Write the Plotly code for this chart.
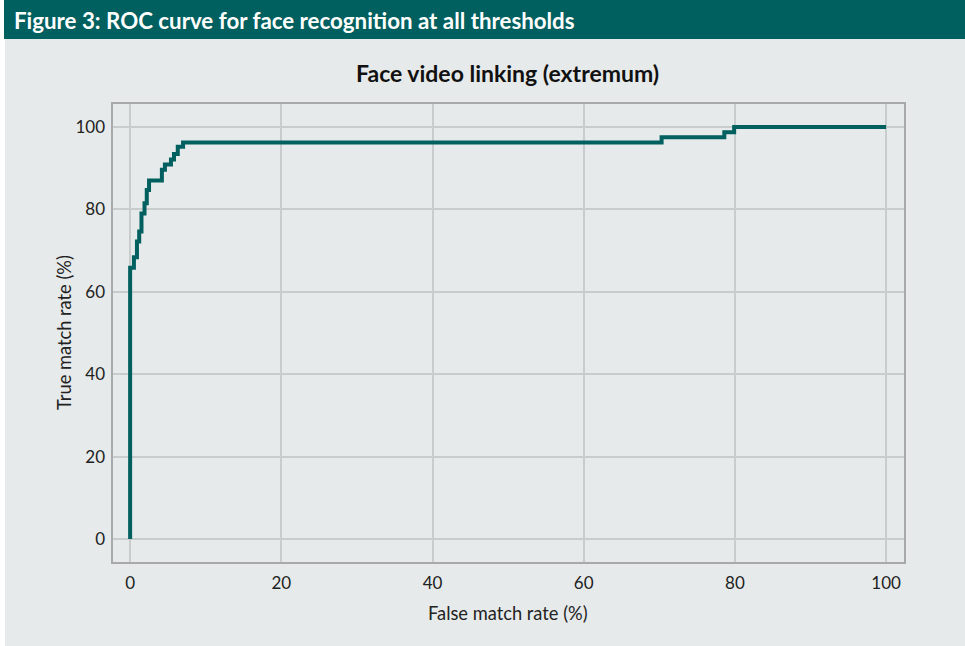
import plotly.graph_objects as go

# ROC operating points (false match rate %, true match rate %)
fmr = [0, 0, 0.5, 0.9, 1.2, 1.5, 1.9, 2.2, 2.5, 4.2, 4.6, 5.4, 5.8, 6.3, 7.0, 70.3, 78.6, 79.9, 100]
tmr = [0, 65.8, 68.4, 72.2, 74.6, 79.0, 81.5, 84.7, 87.0, 89.6, 90.9, 92.1, 93.4, 95.2, 96.2, 97.5, 98.7, 100, 100]

x_ticks = [0, 20, 40, 60, 80, 100]
y_ticks = [0, 20, 40, 60, 80, 100]

header_text = "Figure 3: ROC curve for face recognition at all thresholds"
chart_title = "Face video linking (extremum)"
x_title = "False match rate (%)"
y_title = "True match rate (%)"

TEAL = "#005F5F"
BG = "#E6EAEA"
GRID = "#C9CCCC"
BORDER = "#A8AAAA"
FONT = "Lato, Carlito, Calibri, sans-serif"

W, H = 965, 646
L, R, T, B = 112, 60, 103, 83
pw, ph = W - L - R, H - T - B


def px(x):
    return (x - L) / pw


def py(y):
    return (H - B - y) / ph


fig = go.Figure()
fig.add_trace(go.Scatter(
    x=fmr, y=tmr, mode="lines", line=dict(color=TEAL, width=4, shape="hv"),
    hoverinfo="skip", showlegend=False,
))

shapes = [
    # page background below the header band
    dict(type="rect", xref="paper", yref="paper", x0=px(5), x1=px(W), y0=py(H), y1=py(39),
         fillcolor=BG, line=dict(width=0), layer="below"),
    # header band
    dict(type="rect", xref="paper", yref="paper", x0=px(4), x1=px(W), y0=py(39), y1=py(0),
         fillcolor=TEAL, line=dict(width=0), layer="below"),
    # plot frame
    dict(type="rect", xref="paper", yref="paper", x0=0, x1=1, y0=0, y1=1,
         line=dict(color=BORDER, width=2), layer="above"),
]

annotations = [
    dict(text=f"<b>{header_text}</b>", xref="paper", yref="paper", x=px(12), y=py(20),
         xanchor="left", yanchor="middle", showarrow=False,
         font=dict(family=FONT, size=22.3, color="white")),
    dict(text=f"<b>{chart_title}</b>", xref="paper", yref="paper", x=px(507), y=py(73),
         xanchor="center", yanchor="middle", showarrow=False,
         font=dict(family=FONT, size=23, color="#111111")),
    dict(text=x_title, xref="paper", yref="paper", x=px(508), y=py(613),
         xanchor="center", yanchor="middle", showarrow=False,
         font=dict(family=FONT, size=18.3, color="#222222")),
    dict(text=y_title, xref="paper", yref="paper", x=px(64), y=py(333),
         xanchor="center", yanchor="middle", showarrow=False, textangle=-90,
         font=dict(family=FONT, size=18.3, color="#222222")),
]

fig.update_layout(
    width=W, height=H,
    margin=dict(l=L, r=R, t=T, b=B, autoexpand=False),
    paper_bgcolor="white", plot_bgcolor=BG,
    shapes=shapes, annotations=annotations,
    font=dict(family=FONT, size=17, color="#222222"),
    xaxis=dict(range=[-2.4, 102.5], tickvals=x_ticks, ticktext=[str(v) for v in x_ticks],
               showgrid=True, gridcolor=GRID, gridwidth=1.5, zeroline=False,
               showline=False, ticks="", ticklabelstandoff=8,
               tickfont=dict(family=FONT, size=17, color="#222222")),
    yaxis=dict(range=[-5.8, 105.8], tickvals=y_ticks, ticktext=[str(v) for v in y_ticks],
               showgrid=True, gridcolor=GRID, gridwidth=1.5, zeroline=False,
               showline=False, ticks="", ticklabelstandoff=6,
               tickfont=dict(family=FONT, size=17, color="#222222")),
)

fig.write_html("out.html")
